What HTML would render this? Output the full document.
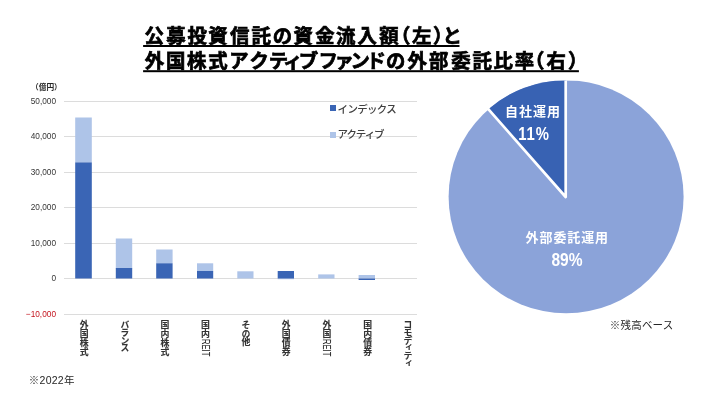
<!DOCTYPE html>
<html lang="ja">
<head>
<meta charset="utf-8">
<title>公募投資信託の資金流入額と外部委託比率</title>
<style>
html,body{margin:0;padding:0;background:#fff;}
body{width:720px;height:405px;overflow:hidden;position:relative;font-family:"Liberation Sans","Noto Sans CJK JP",sans-serif;color:#262626;}
.abs{position:absolute;white-space:nowrap;line-height:1;}
.ylab{font-size:9px;color:#363636;width:40px;text-align:right;left:15.5px;transform-origin:100% 50%;transform:scaleX(0.92);}
.cat{writing-mode:vertical-rl;font-size:8.9px;color:#333;font-weight:bold;-webkit-text-stroke:0.1px #333;top:320.2px;width:10px;line-height:10px;text-orientation:mixed;letter-spacing:0.3px;}
.cat .r{display:inline-block;transform:scaleY(0.76);transform-origin:50% 0;letter-spacing:0;font-size:10px;font-weight:normal;color:#222;}
.leg{font-size:10.5px;color:#404040;left:337.6px;font-weight:500;}
.pl{color:#fff;font-weight:bold;text-align:center;}
</style>
</head>
<body>
<svg class="abs" style="left:0;top:0" width="720" height="405" viewBox="0 0 720 405">
  <g stroke="#dcdcdc" stroke-width="1" shape-rendering="crispEdges">
    <line x1="63.5" x2="417" y1="101.5" y2="101.5"/>
    <line x1="63.5" x2="417" y1="136.5" y2="136.5"/>
    <line x1="63.5" x2="417" y1="172.5" y2="172.5"/>
    <line x1="63.5" x2="417" y1="207.5" y2="207.5"/>
    <line x1="63.5" x2="417" y1="243.5" y2="243.5"/>
    <line x1="63.5" x2="417" y1="278.5" y2="278.5"/>
    <line x1="63.5" x2="417" y1="314.5" y2="314.5"/>
  </g>
  <g fill="#aec4e8">
    <rect x="75.2" y="117.5" width="16.6" height="45"/>
    <rect x="115.8" y="238.5" width="16.4" height="30"/>
    <rect x="156.2" y="249.5" width="16.4" height="14"/>
    <rect x="197" y="263.3" width="16.2" height="8"/>
    <rect x="237.3" y="271.3" width="16.2" height="7.2"/>
    <rect x="277.7" y="278.5" width="16.3" height="0.7"/>
    <rect x="318.2" y="274.4" width="16.3" height="4.1"/>
    <rect x="358.6" y="275" width="16.4" height="3.5"/>
  </g>
  <g fill="#3a65b5">
    <rect x="75.2" y="162.4" width="16.6" height="116.1"/>
    <rect x="115.8" y="268" width="16.4" height="10.5"/>
    <rect x="156.2" y="263.3" width="16.4" height="15.2"/>
    <rect x="197" y="271" width="16.2" height="7.5"/>
    <rect x="277.7" y="271" width="16.3" height="7.5"/>
    <rect x="358.6" y="278.5" width="16.4" height="1.5"/>
  </g>
  <rect x="330" y="105" width="6" height="6" fill="#3a65b5"/>
  <rect x="330" y="132" width="6" height="6" fill="#aec4e8"/>
  <!-- pie -->
  <defs><clipPath id="pc"><rect x="440" y="80.4" width="260" height="240"/></clipPath></defs>
  <g clip-path="url(#pc)">
    <ellipse cx="566.1" cy="196.8" rx="117.5" ry="116.5" fill="#8ba3d9"/>
    <path d="M565.7 197.0 L565.7 80.3 A117.5 116.5 0 0 0 488.3 109.2 Z" fill="#3862b3"/>
    <path d="M485.7 106.2 L565.7 197.0 L565.7 76.3" fill="none" stroke="#fff" stroke-width="2.7" stroke-linejoin="round"/>
  </g>
  <g font-family="'Liberation Sans','Noto Sans CJK JP',sans-serif" font-weight="bold" font-size="19.4" fill="#000" stroke="#000" stroke-width="0.72">
    <text id="t1" y="42.6" x="144.4 166.2 187.5 208.3 230.1 251.4 272.7 293.5 315.3 336.1 357.4 379.2 391.0 411.9 432.9 442.5">公募投資信託の資金流入額（左）と</text>
    <text id="t2" y="67.8" x="144.8 166.0 187.1 208.3 229.2 249.4 268.8 283.0 298.7 318.6 334.4 350.6 366.5 386.0 407.5 429.1 451.3 472.5 493.5 514.7 525.1 546.6 567.9">外国株式アクティブファンドの外部委託比率（右）</text>
  </g>
  <rect x="143.1" y="45" width="316.4" height="2" fill="#000"/>
  <rect x="143.1" y="70.2" width="435.8" height="2" fill="#000"/>
</svg>


<div class="abs" style="left:31px;top:84px;font-size:7.7px;font-weight:bold;color:#262626">（億円）</div>
<div class="abs ylab" style="top:97px">50,000</div>
<div class="abs ylab" style="top:132px">40,000</div>
<div class="abs ylab" style="top:168px">30,000</div>
<div class="abs ylab" style="top:203px">20,000</div>
<div class="abs ylab" style="top:239px">10,000</div>
<div class="abs ylab" style="top:274px">0</div>
<div class="abs ylab" style="top:310px;color:#c4141e">−10,000</div>

<div class="abs leg" style="top:103.5px;letter-spacing:-0.7px">インデックス</div>
<div class="abs leg" style="top:129px;letter-spacing:-1.1px">アクティブ</div>

<div class="abs cat" style="left:78.6px">外国株式</div>
<div class="abs cat" style="left:119.5px;letter-spacing:-1.0px">バランス</div>
<div class="abs cat" style="left:159.5px">国内株式</div>
<div class="abs cat" style="left:199.9px">国内<span class="r">REIT</span></div>
<div class="abs cat" style="left:240.5px;letter-spacing:-0.2px">その他</div>
<div class="abs cat" style="left:280.8px">外国債券</div>
<div class="abs cat" style="left:321.4px">外国<span class="r">REIT</span></div>
<div class="abs cat" style="left:362.3px">国内債券</div>
<div class="abs cat" style="left:402.4px;letter-spacing:-1.0px">コモディティ</div>

<div class="abs" style="left:28.8px;top:375px;font-size:10.5px;letter-spacing:0.25px">※2022年</div>
<div class="abs" style="left:609.8px;top:320px;font-size:10.5px;letter-spacing:0.2px">※残高ベース</div>

<div class="abs pl" style="left:493px;width:80px;top:104.5px;font-size:13px;letter-spacing:1px">自社運用</div>
<div class="abs pl" style="left:494px;width:80px;top:123.8px;font-size:19px;letter-spacing:1.2px;transform:scaleX(0.78)">11%</div>
<div class="abs pl" style="left:517.3px;width:100px;top:230.7px;font-size:13px;letter-spacing:0.9px">外部委託運用</div>
<div class="abs pl" style="left:517px;width:100px;top:251px;font-size:18.5px;font-weight:bold;transform:scaleX(0.84)">89%</div>
</body>
</html>
